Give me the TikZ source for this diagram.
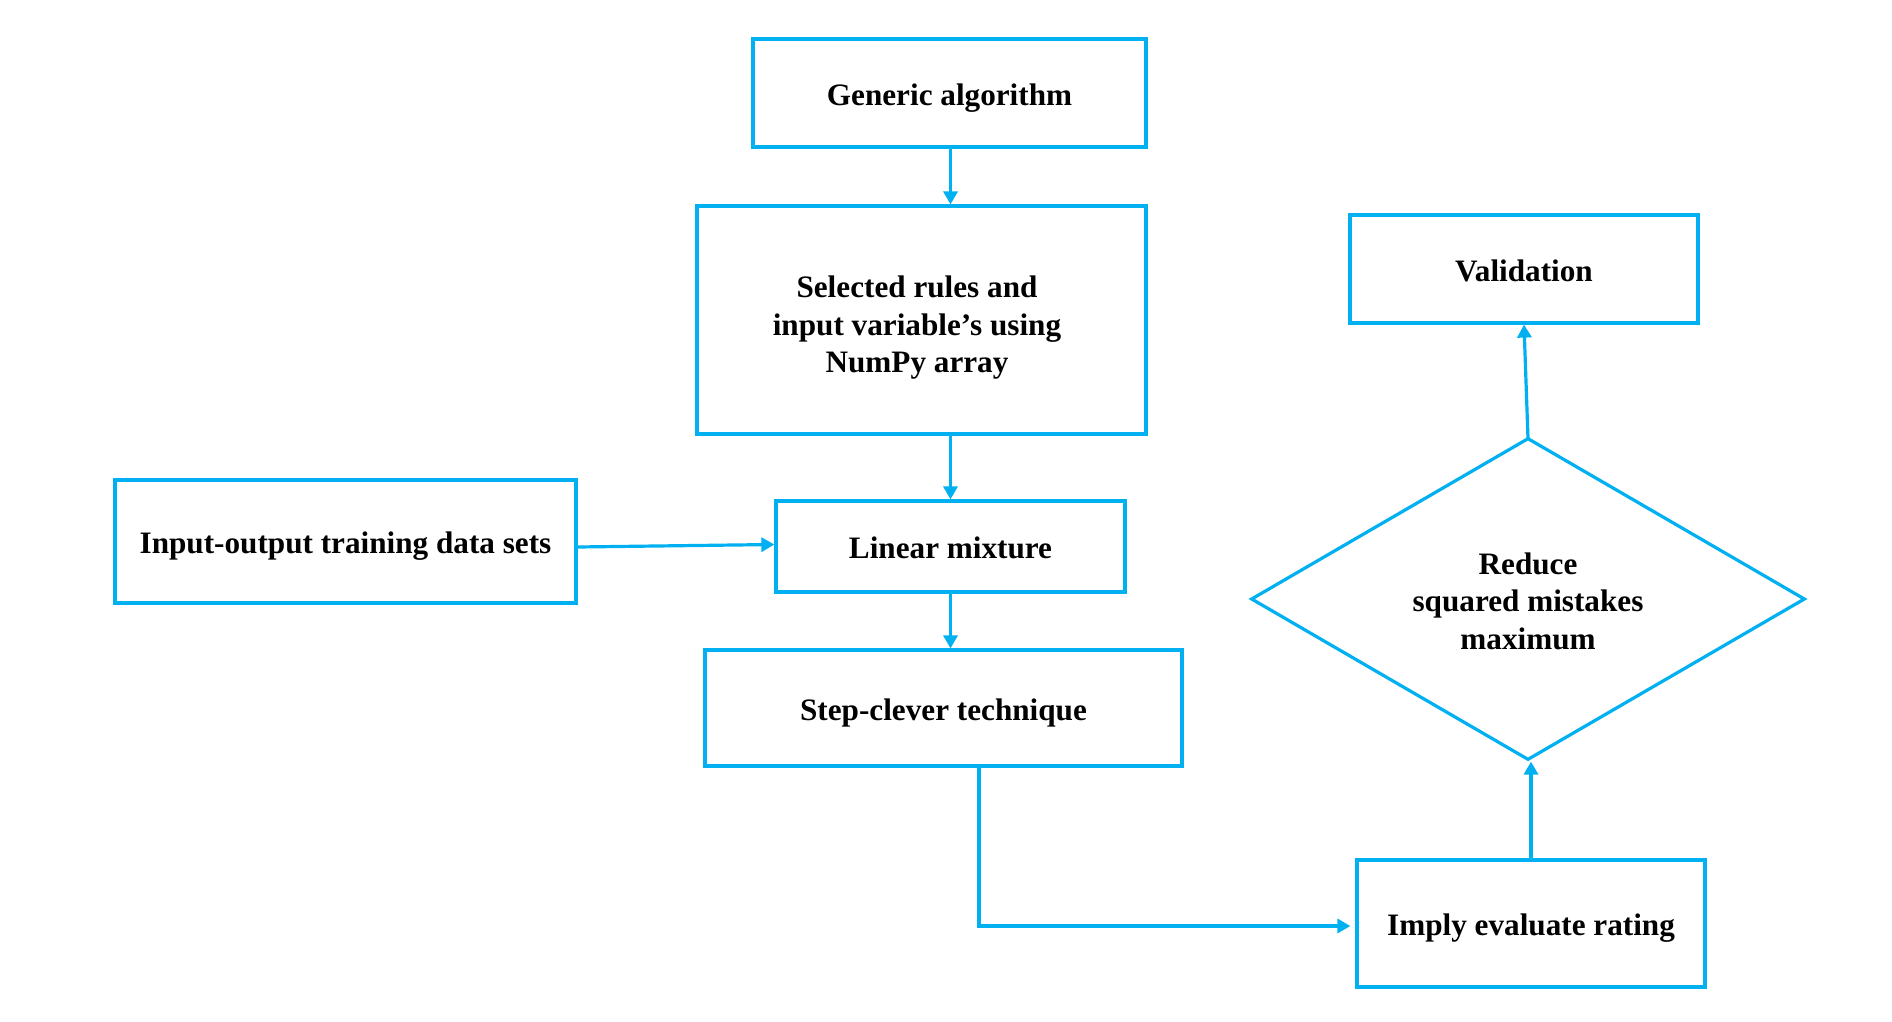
\documentclass[tikz,border=0pt]{standalone}
\usepackage{fontspec}
\setmainfont{Liberation Serif}
\usetikzlibrary{arrows.meta,shapes.geometric}
\definecolor{flow}{HTML}{00B0F0}
\tikzset{
  box/.style={draw=flow, line width=1.6pt, rectangle, inner sep=0pt, align=center,
    text height=15.8pt, text depth=3.4pt,
    font=\fontsize{15.6pt}{18.75pt}\selectfont\bfseries},
  dia/.style={draw=flow, line width=1.6pt, diamond, inner sep=0pt},
  txt/.style={inner sep=0pt, align=center, font=\fontsize{15.6pt}{18.75pt}\selectfont\bfseries},
  arr/.style={draw=flow, line width=1.6pt, -{Triangle[length=6.5pt,width=7pt]}}
}
\begin{document}
\begin{tikzpicture}[x=0.5pt,y=-0.5pt]
\useasboundingbox (0,0) rectangle (1892,1022);
\node[box, minimum width=196.5pt, minimum height=54pt] (gen) at (949.5,93) {Generic algorithm};
\node[draw=flow, line width=1.6pt, rectangle, inner sep=0pt, minimum width=224.5pt, minimum height=114pt] (sel) at (921.5,320) {};
\node[txt] at (917,328) {Selected rules and\\input variable’s using\\NumPy array};
\node[box, minimum width=174pt, minimum height=54pt] (val) at (1524,269) {Validation};
\node[box, minimum width=230.5pt, minimum height=61.5pt] (inp) at (345.5,541.5) {Input-output training data sets};
\node[box, minimum width=174.5pt, minimum height=45.5pt] (lin) at (950.5,546.5) {Linear mixture};
\node[box, minimum width=238.5pt, minimum height=58pt] (stp) at (943.5,708) {Step-clever technique};
\node[dia, minimum width=277pt, minimum height=161pt] (dec) at (1528,599) {};
\node[txt] at (1528,601) {Reduce\\squared mistakes\\maximum};
\node[box, minimum width=174pt, minimum height=63.5pt] (imp) at (1531,923.5) {Imply evaluate rating};
\coordinate (impin) at ([xshift=-2.5pt,yshift=-1.25pt]imp.west);
\draw[arr] (gen.south -| lin.north) -- (sel.north -| lin.north);
\draw[arr] (sel.south -| lin.north) -- (lin.north);
\draw[arr] ([yshift=-2.75pt]inp.east) -- ([yshift=1pt]lin.west);
\draw[arr] (lin.south) -- (lin.south |- stp.north);
\draw[arr] ([xshift=17.75pt]stp.south) |- (impin);
\draw[arr] (imp.north) -- (imp.north |- dec.south);
\draw[arr] ([yshift=-1pt]dec.north) -- (val.south);
\end{tikzpicture}
\end{document}
